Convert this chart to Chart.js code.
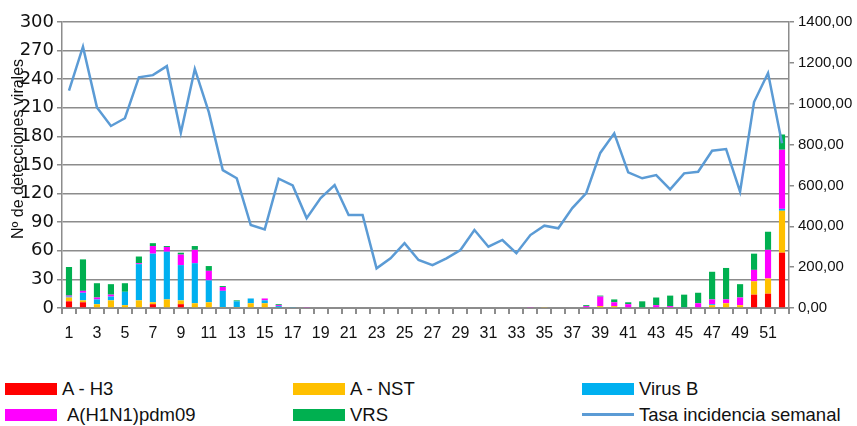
<!DOCTYPE html>
<html>
<head>
<meta charset="utf-8">
<script src="https://cdn.jsdelivr.net/npm/chart.js@4/dist/chart.umd.min.js"></script>
<style>
  html, body { margin: 0; padding: 0; background: #fff; }
  #wrap { position: relative; width: 857px; height: 426px; font-family: "Liberation Sans", Arial, sans-serif; }
  #chartBox { position: absolute; left: 0; top: 0; width: 857px; height: 345px; }
  .lg-box { position: absolute; width: 52px; height: 12px; }
  .lg-line { position: absolute; width: 52px; height: 3px; background: #5B9BD5; }
  .lg-text { position: absolute; font-size: 18.5px; line-height: 20px; color: #111; white-space: nowrap; }
</style>
</head>
<body>
<div id="wrap">
  <div id="chartBox"><canvas id="fluChart"></canvas></div>

  <div class="lg-box" style="left:5px; top:383px; background:#FF0000"></div>
  <div class="lg-text" style="left:62px; top:379px">A - H3</div>
  <div class="lg-box" style="left:293px; top:383px; background:#FFC000"></div>
  <div class="lg-text" style="left:350px; top:379px">A - NST</div>
  <div class="lg-box" style="left:582px; top:383px; background:#00B0F0"></div>
  <div class="lg-text" style="left:639px; top:379px">Virus B</div>

  <div class="lg-box" style="left:5px; top:409px; background:#FF00FF"></div>
  <div class="lg-text" style="left:67px; top:405px">A(H1N1)pdm09</div>
  <div class="lg-box" style="left:293px; top:409px; background:#00B050"></div>
  <div class="lg-text" style="left:350px; top:405px">VRS</div>
  <div class="lg-line" style="left:582px; top:413px"></div>
  <div class="lg-text" style="left:639px; top:405px">Tasa incidencia semanal</div>
</div>

<script>
// semanas epidemiológicas 1..52
const weeks = [];
for (let i = 1; i <= 52; i++) weeks.push(String(i));

const aH3 = [7, 6, 0, 0, 0, 0, 4, 0, 4, 0, 0, 0, 0, 0, 0, 0, 0, 0, 0, 0, 0, 0, 0, 0, 0, 0,
             0, 0, 0, 0, 0, 0, 0, 0, 0, 0, 0, 0, 0, 0, 0, 0, 0, 0, 0, 0, 0, 0, 0, 14, 15, 58];
const aNST = [4, 2, 4, 8, 3, 8, 2, 9, 4, 5, 6, 1, 1, 5, 5, 0, 0, 0, 0, 0, 0, 0, 0, 0, 0, 0,
              0, 0, 0, 0, 0, 0, 0, 0, 1, 0, 0, 0, 2, 2, 0, 0, 0, 0, 0, 0, 3, 5, 3, 14, 16, 44];
const virusB = [1, 8, 5, 4, 14, 38, 51, 50, 37, 42, 23, 17, 6, 5, 3, 2, 1, 0, 0, 0, 0, 0, 0, 0, 0, 0,
                0, 0, 0, 0, 0, 0, 0, 0, 0, 0, 0, 0, 0, 0, 0, 0, 0, 0, 1, 0, 1, 0, 0, 0, 0, 2];
const h1n1 = [1, 2, 2, 2, 0, 1, 8, 5, 11, 14, 10, 4, 0, 0, 2, 1, 0, 1, 0, 0, 0, 0, 0, 0, 0, 0,
              0, 0, 0, 0, 0, 0, 0, 1, 0, 0, 0, 2, 10, 4, 4, 0, 3, 2, 0, 5, 5, 4, 8, 12, 30, 62];
const vrs = [30, 33, 15, 11, 9, 7, 3, 1, 2, 4, 5, 1, 1, 0, 0, 1, 0, 0, 0, 0, 0, 0, 0, 0, 0, 0,
             0, 0, 0, 0, 0, 0, 0, 0, 0, 0, 0, 1, 1, 3, 2, 7, 8, 11, 13, 11, 29, 33, 14, 17, 19, 16];
const tasa = [1064, 1279, 982, 891, 929, 1129, 1140, 1184, 858, 1170, 959, 675, 635, 406, 385, 633,
              600, 440, 538, 602, 455, 455, 194, 243, 317, 235, 210, 243, 284, 382, 300, 333, 268,
              357, 403, 390, 489, 563, 759, 855, 664, 635, 651, 581, 659, 667, 770, 778, 569, 1008,
              1150, 806];

const gridGray = '#8c8c8c';

function barSet(label, data, color) {
    return {
        type: 'bar', label: label, data: data, backgroundColor: color,
        yAxisID: 'y', stack: 'virus', order: 2,
        categoryPercentage: 1, barPercentage: 0.44
    };
}

// rótulo del eje izquierdo, montado sobre las etiquetas como en el original
const yTitlePlugin = {
    id: 'yTitle',
    afterDraw(chart) {
        const ctx = chart.ctx;
        ctx.save();
        ctx.translate(19, 149);
        ctx.rotate(-Math.PI / 2);
        ctx.font = '16px "Liberation Sans", Arial, sans-serif';
        ctx.fillStyle = '#111';
        ctx.textAlign = 'center';
        ctx.textBaseline = 'middle';
        ctx.fillText('Nº de detecciones virales', 0, 0);
        ctx.restore();
    }
};

const ctx = document.getElementById('fluChart').getContext('2d');
new Chart(ctx, {
    data: {
        labels: weeks,
        datasets: [
            {
                type: 'line', label: 'Tasa incidencia semanal', data: tasa, yAxisID: 'y1',
                borderColor: '#5B9BD5', backgroundColor: '#5B9BD5', borderWidth: 2.5,
                pointRadius: 0, tension: 0, order: 0
            },
            barSet('A - H3', aH3, '#FF0000'),
            barSet('A - NST', aNST, '#FFC000'),
            barSet('Virus B', virusB, '#00B0F0'),
            barSet('A(H1N1)pdm09', h1n1, '#FF00FF'),
            barSet('VRS', vrs, '#00B050')
        ]
    },
    options: {
        responsive: true,
        maintainAspectRatio: false,
        animation: false,
        layout: { padding: { top: 22, right: 0, left: 0, bottom: 0 } },
        plugins: { legend: { display: false }, tooltip: { enabled: false } },
        scales: {
            x: {
                stacked: true,
                offset: true,
                grid: { offset: true, drawOnChartArea: false, color: gridGray, lineWidth: 2, tickLength: 6 },
                border: { color: gridGray, width: 2 },
                ticks: {
                    autoSkip: false, maxRotation: 0, padding: 10,
                    color: '#111', font: { family: '"Liberation Sans", Arial, sans-serif', size: 16 },
                    callback: (v, i) => (i % 2 === 0 ? weeks[i] : '')
                },
                afterFit: s => { s.height = 37; }
            },
            y: {
                stacked: true,
                position: 'left',
                min: 0, max: 300,
                ticks: {
                    stepSize: 30, padding: 3, color: '#111',
                    font: { family: '"DejaVu Sans", sans-serif', size: 18 }
                },
                grid: { color: gridGray, lineWidth: 1.5, tickLength: 5 },
                border: { color: gridGray, width: 1.5 },
                afterFit: s => { s.width = 62; }
            },
            y1: {
                position: 'right',
                min: 0, max: 1400,
                ticks: {
                    stepSize: 200, padding: 4, color: '#111',
                    font: { family: '"Liberation Sans", Arial, sans-serif', size: 15 },
                    callback: v => v.toFixed(2).replace('.', ',')
                },
                grid: { drawOnChartArea: false, color: gridGray, lineWidth: 1.5, tickLength: 5 },
                border: { color: gridGray, width: 1.5 },
                afterFit: s => { s.width = 68; }
            }
        }
    },
    plugins: [yTitlePlugin]
});
</script>
</body>
</html>
